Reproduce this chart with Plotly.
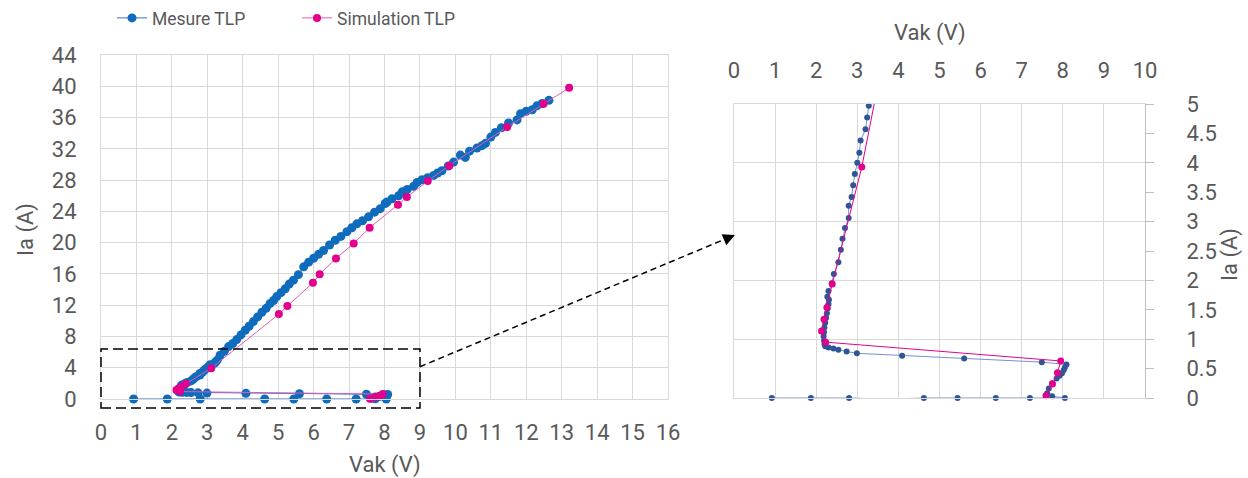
import numpy as np
import plotly.graph_objects as go

# ---------------- data ----------------
mes_vak = [0.92, 1.87, 2.80, 3.71, 4.62, 5.44, 6.37, 7.20, 8.05,
           7.74, 7.62, 7.66, 7.74, 7.85, 7.92, 7.98, 8.02, 8.05, 8.09,
           7.49, 5.60, 4.09, 2.99, 2.74, 2.54, 2.42, 2.30, 2.22, 2.20,
           2.19, 2.18, 2.19, 2.20, 2.22, 2.24, 2.26, 2.28, 2.30, 2.31,
           2.27, 2.30, 2.38, 2.43, 2.54, 2.60, 2.64, 2.70, 2.79, 2.79,
           2.86, 2.90, 2.94, 3.00, 3.05, 3.08, 3.20, 3.24, 3.28,
           3.36, 3.48, 3.60, 3.72, 3.83, 3.95, 4.07, 4.18, 4.30, 4.42,
           4.54, 4.66, 4.77, 4.87, 4.96, 5.08, 5.20, 5.31, 5.43, 5.57,
           5.72, 5.86, 6.00, 6.14, 6.28, 6.45, 6.61, 6.77, 6.94, 7.08,
           7.22, 7.38, 7.55, 7.72, 7.88, 8.02, 8.07, 8.21, 8.40, 8.50,
           8.64, 8.82, 8.92, 9.06, 9.22, 9.39, 9.50, 9.62, 9.80, 9.95,
           10.14, 10.28, 10.40, 10.61, 10.75, 10.85, 11.00, 11.13, 11.30,
           11.50, 11.74, 11.84, 12.00, 12.17, 12.30, 12.45, 12.64]
mes_ia = [0.00, 0.00, 0.00, -0.02, 0.00, 0.00, 0.00, 0.00, 0.00,
          0.03, 0.08, 0.16, 0.25, 0.33, 0.38, 0.42, 0.47, 0.52, 0.57,
          0.61, 0.67, 0.72, 0.76, 0.79, 0.82, 0.84, 0.86, 0.88, 0.92,
          0.98, 1.05, 1.12, 1.20, 1.28, 1.36, 1.44, 1.52, 1.60, 1.67,
          1.72, 1.82, 1.95, 2.11, 2.31, 2.52, 2.71, 2.89, 3.06, 3.27,
          3.42, 3.62, 3.81, 4.00, 4.17, 4.38, 4.57, 4.77, 4.97,
          5.6, 6.1, 6.7, 7.1, 7.6, 8.2, 8.8, 9.3, 9.9, 10.5,
          11.1, 11.6, 12.2, 12.6, 13.1, 13.6, 14.1, 14.7, 15.2, 15.9,
          16.9, 17.5, 18.0, 18.5, 19.0, 19.7, 20.3, 20.8, 21.4, 21.9,
          22.4, 22.8, 23.3, 23.9, 24.35, 25.0, 25.2, 25.6, 26.0, 26.5,
          26.8, 27.2, 27.7, 28.05, 28.3, 28.6, 28.9, 29.2, 29.8, 30.3,
          31.2, 30.9, 31.7, 32.1, 32.4, 32.7, 33.5, 34.1, 34.7,
          35.3, 35.7, 36.5, 36.8, 37.0, 37.5, 37.8, 38.2]

sim_vak = [7.59, 7.75, 7.87, 7.95, 2.23, 2.13, 2.19, 2.26, 2.39, 3.11,
           5.02, 5.26, 5.98, 6.17, 6.63, 7.13, 7.58, 8.38, 8.63, 9.22,
           9.83, 11.46, 12.49, 13.21]
sim_ia = [0.04, 0.24, 0.43, 0.63, 0.95, 1.14, 1.34, 1.54, 1.94, 3.93,
          10.86, 11.9, 14.86, 15.96, 17.97, 19.9, 21.9, 24.86, 25.84, 27.88,
          29.85, 34.78, 37.76, 39.8]

names = ["Mesure TLP", "Simulation TLP"]
left_xticks = list(range(0, 17))
left_yticks = list(range(0, 45, 4))
right_xticks = list(range(0, 11))
right_yticks = [0, 0.5, 1, 1.5, 2, 2.5, 3, 3.5, 4, 4.5, 5]
right_ylabels = ["0", "0.5", "1", "1.5", "2", "2.5", "3", "3.5", "4", "4.5", "5"]

# ---------------- style ----------------
W, H = 1248, 478
FONT = "Roboto"
TXT = "#595959"
GRID = "#D9D9D9"
BLUE = "#0F6CBD"
BLUE_LINE = "#2E6FC0"
BLUE_R = "#2F5597"
BLUE_R_LINE = "#7592CF"
PINK = "#E3008C"
PINK_LINE = "#E45BB4"


def px(x, y):
    return x / W, 1 - y / H


fig = go.Figure()

# left subplot
fig.add_trace(go.Scatter(x=mes_vak, y=mes_ia, name=names[0], mode="lines+markers",
                         line=dict(color=BLUE_LINE, width=1),
                         marker=dict(color=BLUE, size=9), cliponaxis=False,
                         xaxis="x", yaxis="y"))
fig.add_trace(go.Scatter(x=sim_vak, y=sim_ia, name=names[1], mode="lines+markers",
                         line=dict(color=PINK_LINE, width=1),
                         marker=dict(color=PINK, size=8), cliponaxis=False,
                         xaxis="x", yaxis="y"))

# right subplot (zoom)
mv, mi = np.array(mes_vak), np.array(mes_ia)
sv, si = np.array(sim_vak), np.array(sim_ia)
fig.add_trace(go.Scatter(x=mv, y=mi, mode="lines", showlegend=False,
                         line=dict(color=BLUE_R_LINE, width=1), xaxis="x2", yaxis="y2"))
fig.add_trace(go.Scatter(x=mv[mi <= 5.05], y=mi[mi <= 5.05], mode="markers", showlegend=False,
                         marker=dict(color=BLUE_R, size=6), cliponaxis=False,
                         xaxis="x2", yaxis="y2"))
fig.add_trace(go.Scatter(x=sv, y=si, mode="lines", showlegend=False,
                         line=dict(color=PINK, width=1), xaxis="x2", yaxis="y2"))
fig.add_trace(go.Scatter(x=sv[si <= 5.05], y=si[si <= 5.05], mode="markers", showlegend=False,
                         marker=dict(color=PINK, size=7), cliponaxis=False,
                         xaxis="x2", yaxis="y2"))

tickfont = dict(family=FONT, size=22, color=TXT)
axcommon = dict(showgrid=True, gridcolor=GRID, gridwidth=1, zeroline=False,
                showline=True, linecolor=GRID, linewidth=1, mirror=True,
                tickfont=tickfont, fixedrange=True, automargin=False)

fig.update_layout(
    width=W, height=H,
    margin=dict(l=0, r=0, t=0, b=0, autoexpand=False),
    paper_bgcolor="white", plot_bgcolor="white",
    showlegend=True,
    legend=dict(orientation="h", x=px(112, 0)[0], xanchor="left",
                y=px(0, 18)[1], yanchor="middle",
                font=dict(family=FONT, size=17.5, color=TXT),
                entrywidth=140, entrywidthmode="pixels",
                bgcolor="rgba(0,0,0,0)"),
    xaxis=dict(domain=[px(101, 0)[0], px(668, 0)[0]], range=[0, 16],
               tickvals=left_xticks, ticks="", ticklabelstandoff=14,
               anchor="y", **axcommon),
    yaxis=dict(domain=[px(0, 399)[1], px(0, 55)[1]], range=[0, 44],
               tickvals=left_yticks, ticks="", ticklabelstandoff=19,
               anchor="x", **axcommon),
    xaxis2=dict(domain=[px(734, 0)[0], px(1145, 0)[0]], range=[0, 10],
                tickvals=right_xticks, side="top", ticks="", ticklabelstandoff=16,
                anchor="y2", **axcommon),
    yaxis2=dict(domain=[px(0, 398)[1], px(0, 104)[1]], range=[0, 5],
                tickvals=[0, 1, 2, 3, 4, 5], showticklabels=False, ticks="",
                anchor="x2", **axcommon),
    yaxis3=dict(overlaying="y2", side="right", anchor="x2", range=[0, 5],
                tickvals=right_yticks, ticktext=right_ylabels,
                ticks="outside", ticklen=8, tickcolor="#BFBFBF", tickwidth=1,
                ticklabelstandoff=28, showgrid=False, zeroline=False,
                showline=True, linecolor="#BFBFBF", linewidth=1,
                tickfont=tickfont, fixedrange=True, automargin=False),
)
# an invisible trace so the overlay axis is drawn
fig.add_trace(go.Scatter(x=[None], y=[None], xaxis="x2", yaxis="y3", showlegend=False,
                         hoverinfo="skip"))

# axis titles
titles = [("Ia (A)", 26, 230, -90), ("Vak (V)", 385, 465, 0),
          ("Vak (V)", 930, 33, 0), ("Ia (A)", 1230, 255, -90)]
for t, x, y, a in titles:
    xx, yy = px(x, y)
    fig.add_annotation(text=t, x=xx, y=yy, xref="paper", yref="paper",
                       showarrow=False, textangle=a, xanchor="center", yanchor="middle",
                       font=dict(family=FONT, size=22, color=TXT))

# dashed zoom rectangle
x0, y0 = px(101, 408)
x1, y1 = px(420, 349)
fig.add_shape(type="rect", xref="paper", yref="paper", x0=x0, x1=x1, y0=y0, y1=y1,
              line=dict(color="black", width=1.5, dash="10px,5px"), layer="above")

# dashed arrow
ax0, ay0 = px(420, 366.7)
ax1, ay1 = px(727, 238.3)
fig.add_shape(type="line", xref="paper", yref="paper", x0=ax0, y0=ay0, x1=ax1, y1=ay1,
              line=dict(color="black", width=1.5, dash="6px,4px"), layer="above")
hx, hy = px(735, 235)
fig.add_annotation(x=hx, y=hy, xref="paper", yref="paper", text="", showarrow=True,
                   ax=-9.2, ay=3.9, arrowhead=2, arrowsize=1.6, arrowwidth=1.5,
                   arrowcolor="black")

fig.write_html("out.html", config={"displayModeBar": False},
               post_script="document.body.style.margin='0';")
